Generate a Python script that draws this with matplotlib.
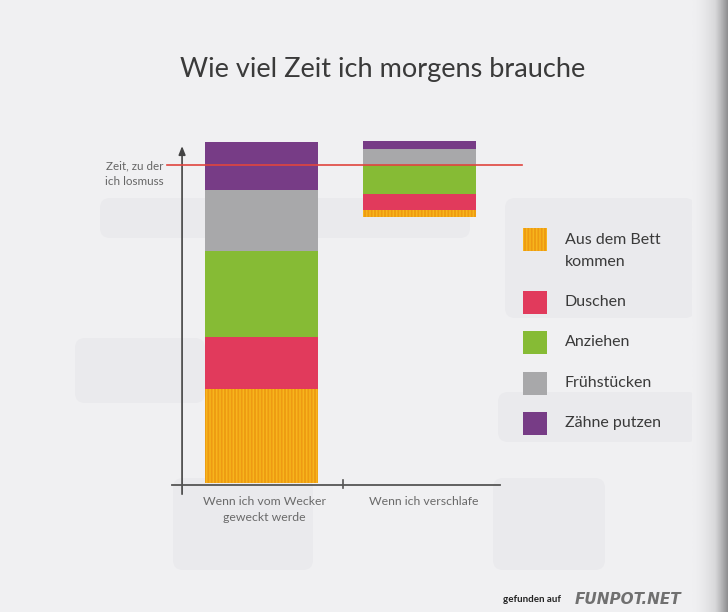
import matplotlib.pyplot as plt
from matplotlib.colors import LinearSegmentedColormap
from matplotlib.patches import FancyBboxPatch, Rectangle
import numpy as np

plt.rcParams['font.family'] = ['Lato', 'DejaVu Sans']
plt.rcParams['hatch.linewidth'] = 1.3

# data (minutes)
scenarios = ['Wenn ich vom Wecker\ngeweckt werde', 'Wenn ich verschlafe']
start = [0, 78]                       # bar 2 starts late
steps = ['Aus dem Bett\nkommen', 'Duschen', 'Anziehen', 'Frühstücken', 'Zähne putzen']
aus_dem_bett = [27.6, 2.1]
duschen = [15.2, 4.7]
anziehen = [25.2, 8.5]
fruehstueck = [17.9, 4.7]
zaehne = [14.1, 2.3]
deadline = 93.3
deadline_label = 'Zeit, zu der\nich losmuss'

colors = ['#f7b51c', '#e13a5c', '#86bb35', '#a8a8aa', '#773c86']
hatch_colors = ['#ee9a12', None, None, None, None]

fig = plt.figure(figsize=(7.28, 6.12), dpi=100)
fig.patch.set_facecolor('#f0f0f2')

# faint shapes showing through from the other side of the page
bg = fig.add_axes([0, 0, 1, 1])
bg.axis('off')
for x0, y0, w, h in [(100, 198, 370, 40), (75, 338, 130, 65), (173, 478, 140, 92),
                     (493, 478, 112, 92), (505, 198, 190, 120), (498, 392, 200, 50)]:
    bg.add_patch(FancyBboxPatch((x0, y0), w, h, boxstyle='round,pad=0,rounding_size=10',
                                fc='#eaeaed', ec='none', zorder=0))
# book gutter shadow on the right
shade = LinearSegmentedColormap.from_list('shade', ['#f0f0f2', '#d8d8da', '#8e8e90'])
grad = np.linspace(0, 1, 60)[None, :] ** 1.6
bg.imshow(grad, extent=(692, 728, 612, 0), cmap=shade, vmin=0, vmax=1,
          aspect='auto', zorder=1)
bg.set_xlim(0, 728)
bg.set_ylim(612, 0)

ax = fig.add_axes([150 / 728, 112 / 612, 390 / 728, 370 / 612])
ax.set_xlim(-0.706, 1.763)
ax.set_ylim(-4.99, 103.5)
ax.axis('off')
ax.patch.set_alpha(0)

series = [aus_dem_bett, duschen, anziehen, fruehstueck, zaehne]
bottom = np.array(start, dtype=float)
x = np.arange(len(scenarios))
for vals, c, hc in zip(series, colors, hatch_colors):
    if hc:
        ax.bar(x, vals, 0.715, bottom=bottom, color=c, edgecolor=hc, hatch='|||||',
               linewidth=0, zorder=2)
    else:
        ax.bar(x, vals, 0.715, bottom=bottom, color=c, linewidth=0, zorder=2)
    bottom += np.array(vals)

# axes lines drawn by hand (arrow on y)
ax.annotate('', xy=(-0.503, 99.6), xytext=(-0.503, -4.1),
            arrowprops=dict(arrowstyle='-|>,head_length=0.5,head_width=0.2',
                            color='#444444', lw=1.2), annotation_clip=False)
ax.plot([-0.567, 1.509], [-0.6, -0.6], color='#555555', lw=1.3, clip_on=False, zorder=3)
ax.plot([0.516, 0.516], [0.9, -1.5], color='#555555', lw=1.2, clip_on=False, zorder=3)

# deadline
ax.plot([-0.598, 1.648], [deadline, deadline], color='#e0453f', lw=1.2, zorder=4,
        clip_on=False)
ax.text(-0.62, deadline + 1.3, deadline_label, ha='right', va='top', fontsize=8.4,
        color='#666666', linespacing=1.5)

for xi, lab in zip(x, scenarios):
    ax.text(xi + (0.02 if xi == 0 else 0.03), -3.9, lab, ha='center', va='top',
            fontsize=8.8, color='#6a6a6a', linespacing=1.55)

fig.text(0.526, 0.886, 'Wie viel Zeit ich morgens brauche', ha='center', va='center',
         fontsize=19.5, color='#3a3a3a')

# legend
for i, (lab, c, hc) in enumerate(zip(steps, colors, hatch_colors)):
    ytop = 228 if i == 0 else 291 + (i - 1) * 40.3
    if hc:
        bg.add_patch(Rectangle((523, ytop), 24, 23, fc=c, ec=hc, hatch='|||||', lw=0, zorder=3))
        ty = 251
    else:
        bg.add_patch(Rectangle((523, ytop), 24, 23, fc=c, lw=0, zorder=3))
        ty = ytop + 11
    bg.text(565, ty, lab, ha='left', va='center', fontsize=11.5, color='#3a3a3a',
            linespacing=1.7, zorder=3)

# watermark
bg.text(503, 600, 'gefunden auf', fontsize=7, color='#222222', ha='left', va='center',
        fontweight='bold', zorder=3)
bg.text(575, 600, 'FUNPOT.NET', fontsize=11, color='#707070', ha='left', va='center',
        fontweight='bold', fontstyle='italic', family='DejaVu Sans', zorder=3)

fig.savefig('out.png', dpi=100, facecolor=fig.get_facecolor())
